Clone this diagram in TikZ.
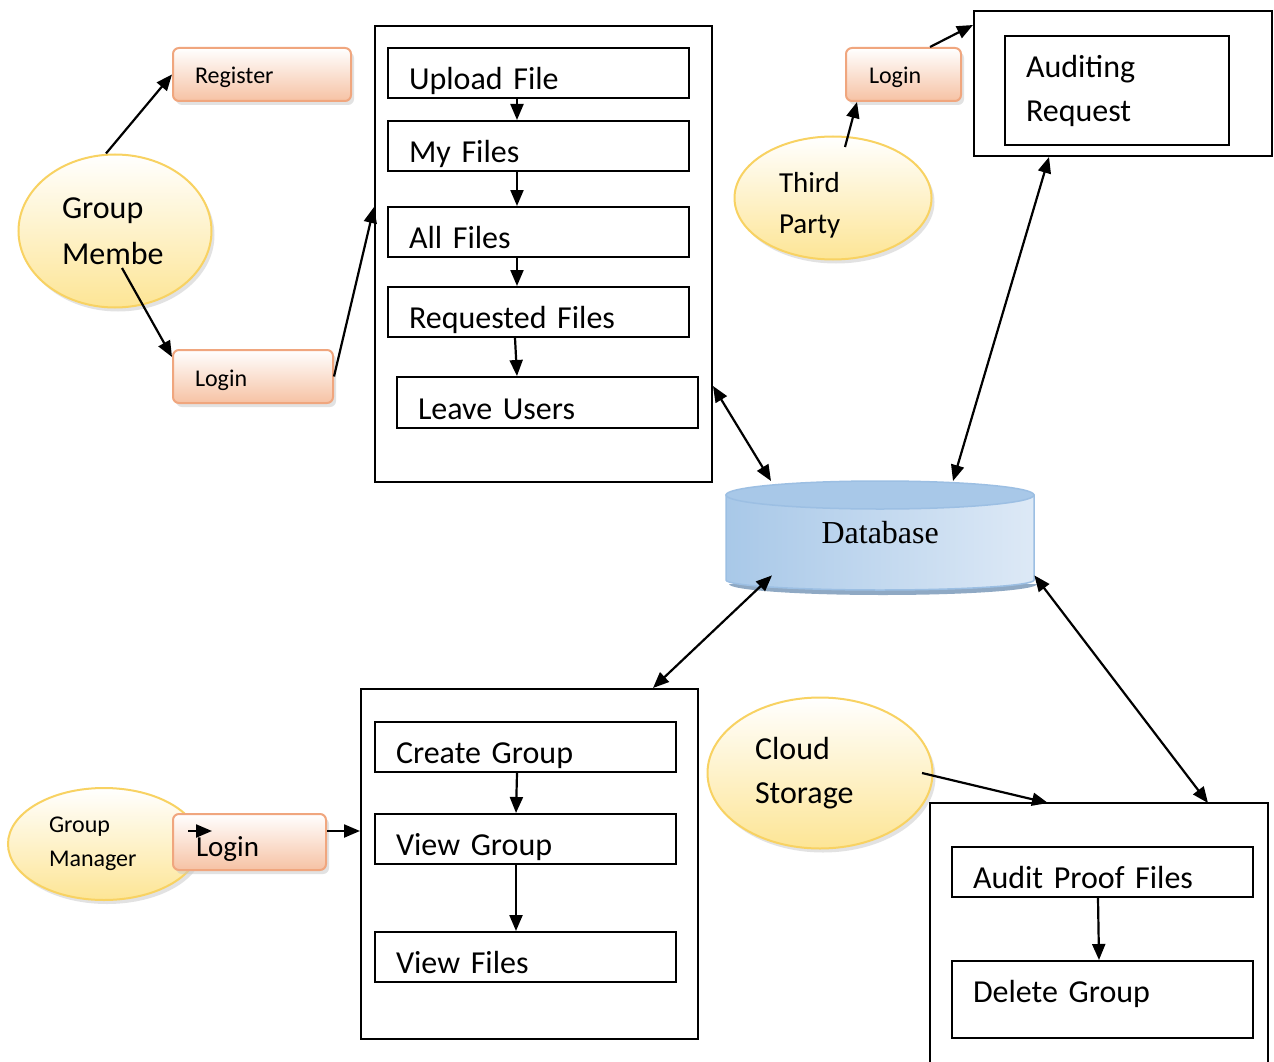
\documentclass[tikz,border=0pt]{standalone}
\usepackage{fontspec}
\setmainfont{Carlito}
\newfontfamily\dbserif{Liberation Serif}
\usetikzlibrary{arrows.meta,shapes.geometric,shadows}

\definecolor{actorline}{HTML}{F8D262}
\definecolor{actorfill}{HTML}{FDE595}
\definecolor{loginline}{HTML}{F0A67E}
\definecolor{loginfill}{HTML}{F6C2A4}
\definecolor{dbtop}{HTML}{A8C8E8}
\definecolor{dbside}{HTML}{DDE9F6}
\definecolor{dbline}{HTML}{9CBFE3}
\definecolor{dbshade}{HTML}{8FA9C4}

\newcommand\szbig{\fontsize{32}{44}\selectfont}
\newcommand\szmid{\fontsize{29}{41}\selectfont}
\newcommand\szsmall{\fontsize{24}{34}\selectfont}

\tikzset{
  actor/.style={ellipse, draw=actorline, line width=2pt, inner sep=0pt,
    top color=white, bottom color=actorfill, align=left,
    drop shadow={shadow xshift=3pt, shadow yshift=-4pt, fill=black!22}},
  loginbox/.style={rectangle, rounded corners=6pt, draw=loginline, line width=2pt,
    top color=white, bottom color=loginfill, anchor=north west, align=left,
    inner xsep=22pt, inner ysep=0pt, text height=20pt, text depth=1pt, font=\szsmall,
    drop shadow={shadow xshift=3pt, shadow yshift=-4pt, fill=black!22}},
  procbox/.style={draw, line width=2pt, anchor=north west, align=left,
    inner xsep=21pt, inner ysep=0pt, minimum height=50pt, text width=259pt, font=\szbig},
  lowline/.style={text height=34pt, text depth=1pt},
  panel/.style={draw, line width=2pt, anchor=north west, inner sep=0pt},
  arr/.style={-{Triangle[length=16pt,width=13pt]}, line width=2.2pt},
  darr/.style={{Triangle[length=16pt,width=13pt]}-{Triangle[length=16pt,width=13pt]}, line width=2.2pt}
}

\begin{document}
\begin{tikzpicture}[x=1pt,y=-1pt]
\fill[white] (0,0) rectangle (1274,1062);
\useasboundingbox (0,0) rectangle (1274,1062);

% group member side
\node[actor, minimum width=193pt, minimum height=153pt, text width=106pt,
  font={\fontsize{32}{46}\selectfont}] (gm) at (115,231) {Group\\Membe};
\node[loginbox, text width=134pt, minimum height=53pt] (reg) at (172,47) {Register};
\node[loginbox, text width=116pt, minimum height=53pt] (lgm) at (172,349) {Login};
\draw[arr] ([xshift=-9pt]gm.north) -- (reg.west);
\draw[arr] ([shift={(7pt,-37pt)}]gm.center) -- ([yshift=-8pt]lgm.north west);

\node[panel, minimum width=337pt, minimum height=456pt] (files) at (374,25) {};
\node[procbox, lowline] (upload) at (387,47) {Upload File};
\node[procbox, lowline] (myfiles) at (387,120) {My Files};
\node[procbox, lowline] (allfiles) at (387,206) {All Files};
\node[procbox, lowline] (reqfiles) at (387,286) {Requested Files};
\node[procbox, lowline, minimum height=51pt] (leave) at (396,376) {Leave Users};
\draw[arr] ([xshift=130pt]upload.south west) -- ([xshift=130pt]myfiles.north west);
\draw[arr] ([xshift=130pt]myfiles.south west) -- ([xshift=130pt]allfiles.north west);
\draw[arr] ([xshift=130pt]allfiles.south west) -- ([xshift=130pt]reqfiles.north west);
\draw[arr] ([xshift=128pt]reqfiles.south west) -- ([xshift=121pt]leave.north west);
\draw[arr] (lgm.east) -- ([yshift=-182pt]files.north west);

% third party side
\node[actor, minimum width=197pt, minimum height=123pt, text width=108pt,
  font=\szmid] (tp) at (833,198) {\rule{0pt}{34pt}Third\\Party};
\node[loginbox, text width=69pt, inner xsep=23pt, minimum height=53pt] (lgt) at (845,47) {Login};
\node[panel, minimum width=298pt, minimum height=145pt] (aud) at (973,10) {};
\node[procbox, text width=182pt, minimum height=109pt] (audreq) at (1004,35) {Auditing\\Request};
\draw[arr] ([shift={(12pt,51pt)}]tp.center) -- ([xshift=12pt]lgt.south west);
\draw[arr] ([xshift=85pt]lgt.north west) -- ([yshift=-15pt]aud.north west);

% database
\fill[dbshade] (729,584) -- (1037,584) arc[start angle=0, end angle=-180, x radius=154pt, y radius=11pt] -- cycle;
\shade[left color=dbtop, right color=dbside, draw=dbline, line width=1.5pt]
  (726,495) -- (726,580) arc[start angle=180, end angle=360, x radius=154pt, y radius=10pt] -- (1034,495) -- cycle;
\draw[dbline, line width=1.5pt, fill=dbtop] (880,495) ellipse[x radius=154pt, y radius=14pt];
\node[anchor=north west, minimum width=308pt, minimum height=109pt, inner sep=0pt,
  font={\dbserif\fontsize{32}{38}\selectfont}] (db) at (726,478) {Database};
\draw[darr] ([yshift=-361pt]files.north east) -- ([shift={(45pt,-3pt)}]db.north west);
\draw[darr] ([xshift=76pt]aud.south west) -- ([shift={(227pt,-3pt)}]db.north west);

% group manager side
\node[panel, minimum width=337pt, minimum height=350pt] (grp) at (360,688) {};
\node[procbox, text width=259pt, lowline] (create) at (374,721) {Create Group};
\node[procbox, text width=259pt, lowline] (viewgrp) at (374,813) {View Group};
\node[procbox, text width=259pt, lowline] (viewfiles) at (374,931) {View Files};
\draw[arr] ([xshift=143pt]create.south west) -- ([xshift=142pt]viewgrp.north west);
\draw[arr] ([xshift=142pt]viewgrp.south west) -- ([xshift=142pt]viewfiles.north west);
\node[actor, minimum width=192pt, minimum height=112pt, text width=110pt,
  font=\szsmall] (mgr) at (104,844) {Group\\Manager};
\node[loginbox, text width=107pt, inner xsep=23pt, minimum height=56pt,
  text height=29pt, font=\szmid] (lgr) at (172,813) {Login};
\draw[arr] ([shift={(16pt,-18pt)}]lgr.north west) -- ([shift={(40pt,-18pt)}]lgr.north west);
\draw[arr] ([yshift=-18pt]lgr.north east) -- ([yshift=-143pt]grp.north west);
\draw[darr] ([shift={(46pt,12pt)}]db.south west) -- ([xshift=293pt]grp.north west);

% cloud storage side
\node[actor, minimum width=225pt, minimum height=151pt, text width=130pt,
  font=\szbig] (cloud) at (820,773) {Cloud\\Storage};
\node[anchor=north west, minimum width=338pt, minimum height=259pt, inner sep=0pt] (proof) at (930,803) {};
\draw[line width=2pt] (proof.south west) -- (proof.north west) -- (proof.north east) -- (proof.south east);
\node[procbox, lowline] (auditproof) at (951,846) {Audit Proof Files};
\node[procbox, text height=24pt, text depth=19pt, minimum height=77pt] (delgrp) at (951,960) {Delete Group};
\draw[arr] ([xshift=147pt]auditproof.south west) -- ([xshift=148pt]delgrp.north west);
\draw[arr] ([xshift=102pt]cloud.center) -- ([xshift=118pt]proof.north west);
\draw[darr] ([yshift=12pt]db.south east) -- ([xshift=278pt]proof.north west);
\end{tikzpicture}
\end{document}
